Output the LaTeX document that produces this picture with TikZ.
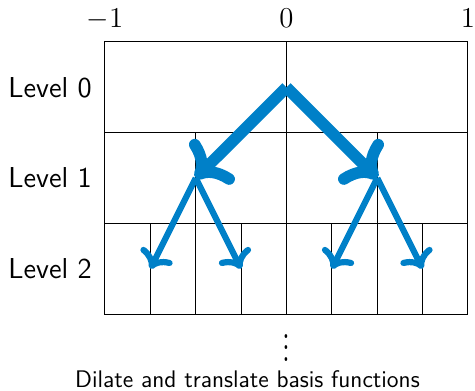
\documentclass[tikz,border=0pt]{standalone}
\usepackage{amsmath,amssymb}
\usepackage{tikz}
\usetikzlibrary{arrows.meta,positioning}
\definecolor{waveblue}{RGB}{0,128,200}
\tikzset{
  level label/.style={font=\sffamily\Large, anchor=east, inner sep=1pt},
  tick label/.style={font=\Large, anchor=base, inner sep=0pt},
  split arrow/.style={-{To[scale=1.0]}, waveblue, line width=#1},
}

\begin{document}
\begin{tikzpicture}[x=90.75pt, y=45.35pt]
  \useasboundingbox (-1.5785,0.463) rectangle (1.0386,-3.837);
  % Grid of supports
  \draw[line width=0.5pt] (-1,0) rectangle (1,-3);
  \draw[line width=0.5pt] (-1,-1) -- (1,-1) (-1,-2) -- (1,-2) (0,0) -- (0,-3);
  \foreach \x in {-0.5,0.5} \draw[line width=0.5pt] (\x,-1) -- (\x,-3);
  \foreach \x in {-0.75,-0.25,0.25,0.75} \draw[line width=0.5pt] (\x,-2) -- (\x,-3);
  % Axis ticks
  \node[tick label] (tickl) at (-1,0.155) {$-1$};
  \node[tick label] (tickc) at (0,0.155) {$0$};
  \node[tick label] (tickr) at (1,0.155) {$1$};
  % Level names
  \foreach \i in {0,1,2}
    \node[level label] (lev\i) at (-1.06,-\i-0.5) {Level \i};
  % Refinement arrows
  \coordinate (top) at (0,-0.5);
  \coordinate (midl) at (-0.5,-1.5);
  \coordinate (midr) at (0.5,-1.5);
  \coordinate (botll) at (-0.75,-2.5);
  \coordinate (botlr) at (-0.25,-2.5);
  \coordinate (botrl) at (0.25,-2.5);
  \coordinate (botrr) at (0.75,-2.5);
  \draw[split arrow=5.8pt] (top) -- (midl);
  \draw[split arrow=5.8pt] (top) -- (midr);
  \draw[split arrow=3.1pt] (midl) -- (botll);
  \draw[split arrow=3.1pt] (midl) -- (botlr);
  \draw[split arrow=3.1pt] (midr) -- (botrl);
  \draw[split arrow=3.1pt] (midr) -- (botrr);
  % Caption
  \node[font=\Large, inner sep=0pt, yscale=1.4, transform shape] (more) at (0,-3.28) {$\vdots$};
  \node[font=\sffamily\large, anchor=base, inner sep=0pt] (caption) at (-0.215,-3.81) {Dilate and translate basis functions};
\end{tikzpicture}
\end{document}
